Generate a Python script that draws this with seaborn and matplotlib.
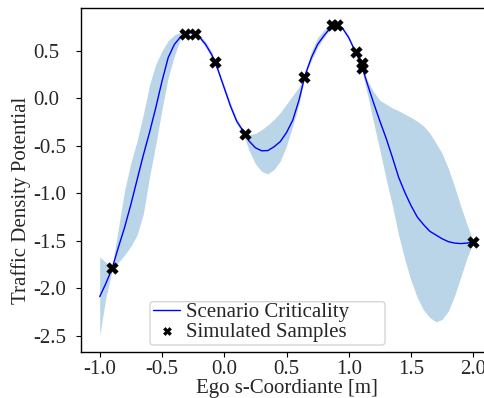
import numpy as np
import pandas as pd
import matplotlib
matplotlib.use("Agg")
import matplotlib.pyplot as plt
from matplotlib.patches import FancyBboxPatch
import seaborn as sns

# ---- data ----
x_grid = [-1.00, -0.95, -0.90, -0.85, -0.80, -0.75, -0.70, -0.65, -0.60, -0.55,
          -0.50, -0.45, -0.40, -0.35, -0.30, -0.25, -0.20, -0.15, -0.10, -0.05,
          0.00, 0.05, 0.10, 0.15, 0.20, 0.25, 0.30, 0.35, 0.40, 0.45,
          0.50, 0.55, 0.60, 0.65, 0.70, 0.75, 0.80, 0.85, 0.90, 0.95,
          1.00, 1.05, 1.10, 1.15, 1.20, 1.25, 1.30, 1.35, 1.40, 1.45,
          1.50, 1.55, 1.60, 1.65, 1.70, 1.75, 1.80, 1.85, 1.90, 1.95, 2.00]

criticality_mean = [-2.09, -1.95, -1.79, -1.57, -1.36, -1.12, -0.86, -0.60, -0.36, -0.10,
                    0.18, 0.43, 0.57, 0.65, 0.69, 0.695, 0.65, 0.57, 0.46, 0.30,
                    0.11, -0.08, -0.24, -0.34, -0.45, -0.52, -0.552, -0.55, -0.51, -0.455,
                    -0.36, -0.23, -0.02, 0.25, 0.43, 0.57, 0.66, 0.74, 0.775, 0.74,
                    0.64, 0.50, 0.36, 0.15, -0.05, -0.24, -0.42, -0.62, -0.83, -0.99,
                    -1.13, -1.25, -1.33, -1.40, -1.44, -1.48, -1.51, -1.525, -1.53, -1.525, -1.51]

criticality_upper = [-1.67, -1.73, -1.77, -1.37, -0.97, -0.68, -0.45, -0.17, 0.14, 0.36,
                     0.50, 0.61, 0.67, 0.70, 0.70, 0.705, 0.67, 0.60, 0.49, 0.32,
                     0.14, -0.05, -0.21, -0.33, -0.38, -0.37, -0.33, -0.28, -0.22, -0.15,
                     -0.06, 0.03, 0.12, 0.27, 0.50, 0.64, 0.72, 0.77, 0.78, 0.75,
                     0.66, 0.51, 0.37, 0.19, 0.07, -0.02, -0.06, -0.10, -0.13, -0.165,
                     -0.20, -0.24, -0.29, -0.365, -0.47, -0.58, -0.74, -0.93, -1.14, -1.33, -1.51]

criticality_lower = [-2.50, -2.10, -1.81, -1.73, -1.65, -1.56, -1.44, -1.22, -0.83, -0.49,
                     -0.12, 0.22, 0.45, 0.63, 0.675, 0.68, 0.63, 0.54, 0.43, 0.28,
                     0.08, -0.11, -0.27, -0.37, -0.55, -0.69, -0.77, -0.795, -0.75, -0.66,
                     -0.50, -0.29, -0.06, 0.24, 0.40, 0.54, 0.64, 0.73, 0.77, 0.73,
                     0.62, 0.48, 0.33, 0.04, -0.26, -0.55, -0.85, -1.13, -1.44, -1.70,
                     -1.92, -2.10, -2.23, -2.31, -2.355, -2.33, -2.24, -2.08, -1.88, -1.68, -1.51]

sample_x = [-0.90, -0.313, -0.232, -0.078, 0.163, 0.644, 0.868, 0.904, 1.059, 1.104, 1.110, 2.00]
sample_y = [-1.79, 0.676, 0.683, 0.387, -0.372, 0.229, 0.774, 0.774, 0.486, 0.37, 0.32, -1.512]

x_ticks = [-1.0, -0.5, 0.0, 0.5, 1.0, 1.5, 2.0]
y_ticks = [0.5, 0.0, -0.5, -1.0, -1.5, -2.0, -2.5]

# ---- style ----
sns.set_style("ticks")
plt.rcParams['font.family'] = ['Liberation Serif', 'DejaVu Serif']
FS = 15
W, H = 484, 398

curve = pd.DataFrame({"x": x_grid, "mean": criticality_mean,
                      "lo": criticality_lower, "hi": criticality_upper})
samples = pd.DataFrame({"x": sample_x, "y": sample_y})

fig = plt.figure(figsize=(W / 100, H / 100), dpi=100)
ax_l, ax_r, ax_t, ax_b = 81, 492, 8.3, 351.7
ax = fig.add_axes([ax_l / W, (H - ax_b) / H, (ax_r - ax_l) / W, (ax_b - ax_t) / H])

ax.fill_between(curve["x"], curve["lo"], curve["hi"], color="#1f77b4", alpha=0.3,
                linewidth=0, zorder=1)
sns.lineplot(data=curve, x="x", y="mean", ax=ax, color="#0000ff", linewidth=1.0,
             label="Scenario Criticality", zorder=2)
sns.scatterplot(data=samples, x="x", y="y", ax=ax, marker="X", color="black",
                s=70, linewidth=0.3, edgecolor="black", label="Simulated Samples", zorder=3)

ax.set_xlim(-1.15, 2.15)
ax.set_ylim(-2.67, 0.95)
ax.set_xticks(x_ticks)
ax.set_yticks(y_ticks)
ax.set_xticklabels([f"{v:.1f}" for v in x_ticks], fontsize=FS)
ax.set_yticklabels([f"{v:.1f}" for v in y_ticks], fontsize=FS, ha="left")
for sp in ax.spines.values():
    sp.set_color("black")
    sp.set_linewidth(1.0)
ax.spines["right"].set_visible(False)
ax.tick_params(axis="both", length=3.5, width=0.8, color="black")
ax.tick_params(axis="x", pad=2.5)
# left-aligned y tick labels starting at x = 33 px
ax.tick_params(axis="y", pad=(ax_l - 4.9 - 33) * 0.72)

ax.set_xlabel("Ego s-Coordiante [m]", fontsize=FS, labelpad=0)
ax.set_ylabel("Traffic Density Potential", fontsize=FS)
ax.yaxis.set_label_coords((31 - ax_l) / (ax_r - ax_l), (ax_b - 200.5) / (ax_b - ax_t))

leg = ax.legend(loc="lower left", bbox_to_anchor=(150 / W, (H - 345) / H),
                bbox_transform=fig.transFigure, borderaxespad=0, fontsize=FS,
                handlelength=1.3, handletextpad=0.3, borderpad=0.15,
                labelspacing=0.0, markerscale=0.7, frameon=False)
# legend frame as in the reference (wider than its content)
frame = FancyBboxPatch((150 / W, (H - 345) / H), (385 - 150) / W, (345 - 301.7) / H,
                       boxstyle="round,pad=0,rounding_size=0.008",
                       transform=fig.transFigure, facecolor="white", alpha=0.8,
                       edgecolor="#cccccc", linewidth=1.0, zorder=4)
ax.add_artist(frame)
leg.set_zorder(5)

fig.savefig("out.png", dpi=100)
